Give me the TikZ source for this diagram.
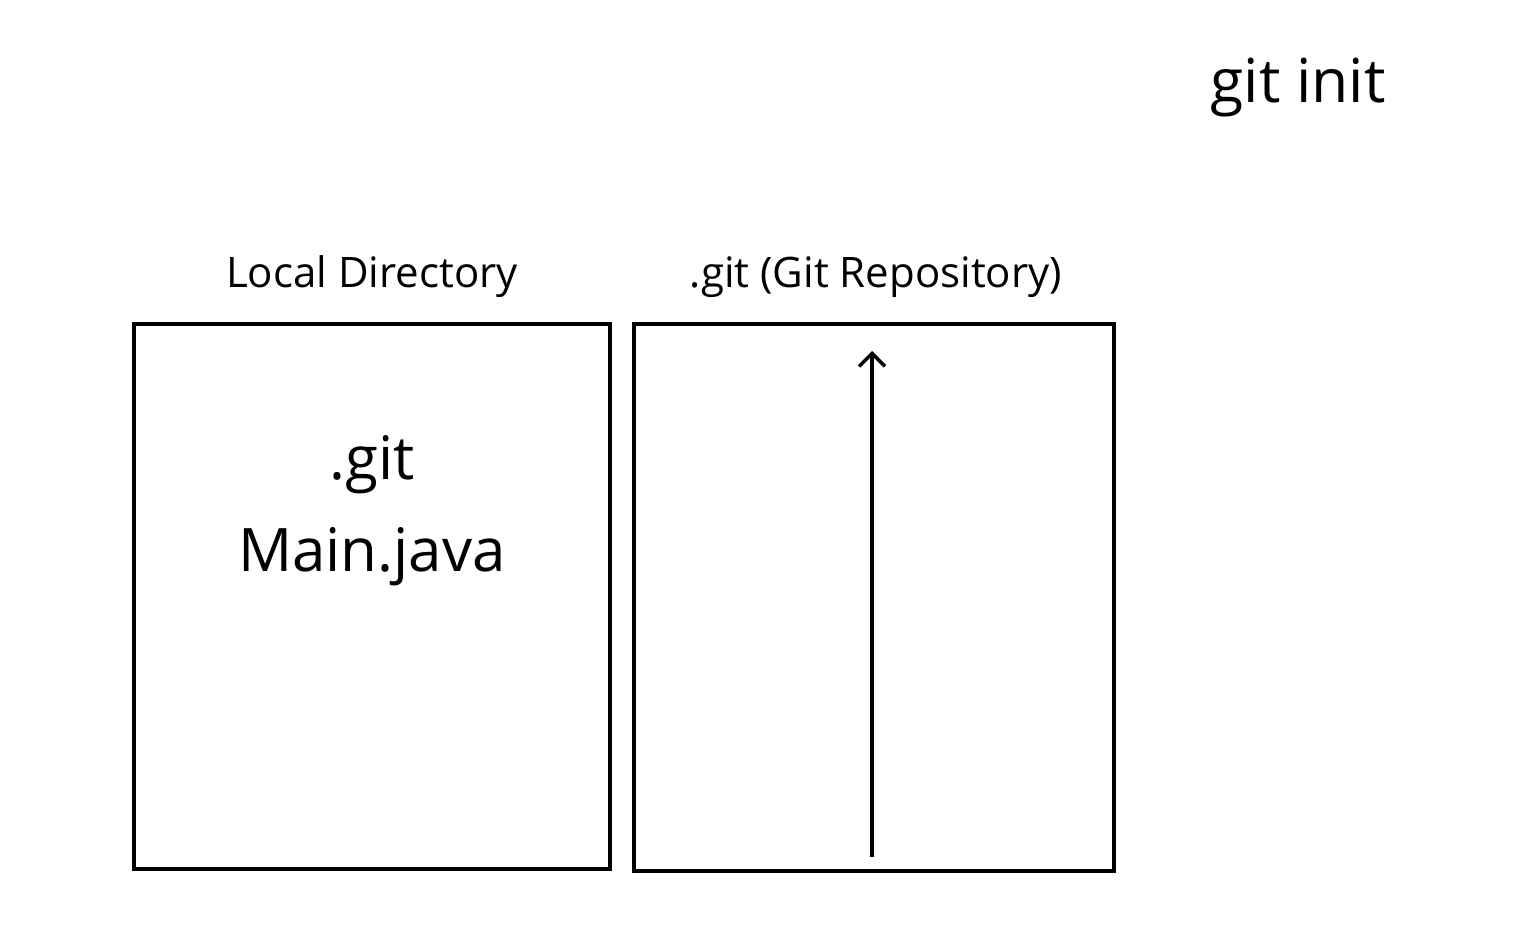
\documentclass[tikz,border=0pt]{standalone}
\usepackage{fontspec}
\setmainfont{Open Sans}
\usetikzlibrary{arrows.meta}
\begin{document}
\begin{tikzpicture}[x=0.5pt,y=-0.5pt,
  box/.style={draw,line width=2pt},
  lbl/.style={font=\fontsize{21}{25}\selectfont,inner sep=0pt},
  big/.style={font=\fontsize{30}{36}\selectfont,inner sep=0pt},
  title/.style={font=\fontsize{30.3}{36}\selectfont,inner sep=0pt},
  arr/.style={line width=1.7pt,-{Straight Barb[length=6.5pt,width=13pt,line width=1.7pt]}}]
\useasboundingbox (0,0) rectangle (1516,948);
\node[title] (t) at (1298,88) {git init};
\node[lbl] (l1) at (372,277) {Local Directory};
\node[lbl] (l2) at (876,277) {.git (Git Repository)};
\draw[box] (134,324) rectangle (610,869);
\draw[box] (634,324) rectangle (1114,871);
\node[big] (g) at (372,465) {.git};
\node[big] (m) at (372,557) {Main.java};
\coordinate (a0) at (872,857);
\coordinate (a1) at (872,351);
\draw[arr] (a0) -- (a1);
\end{tikzpicture}
\end{document}
